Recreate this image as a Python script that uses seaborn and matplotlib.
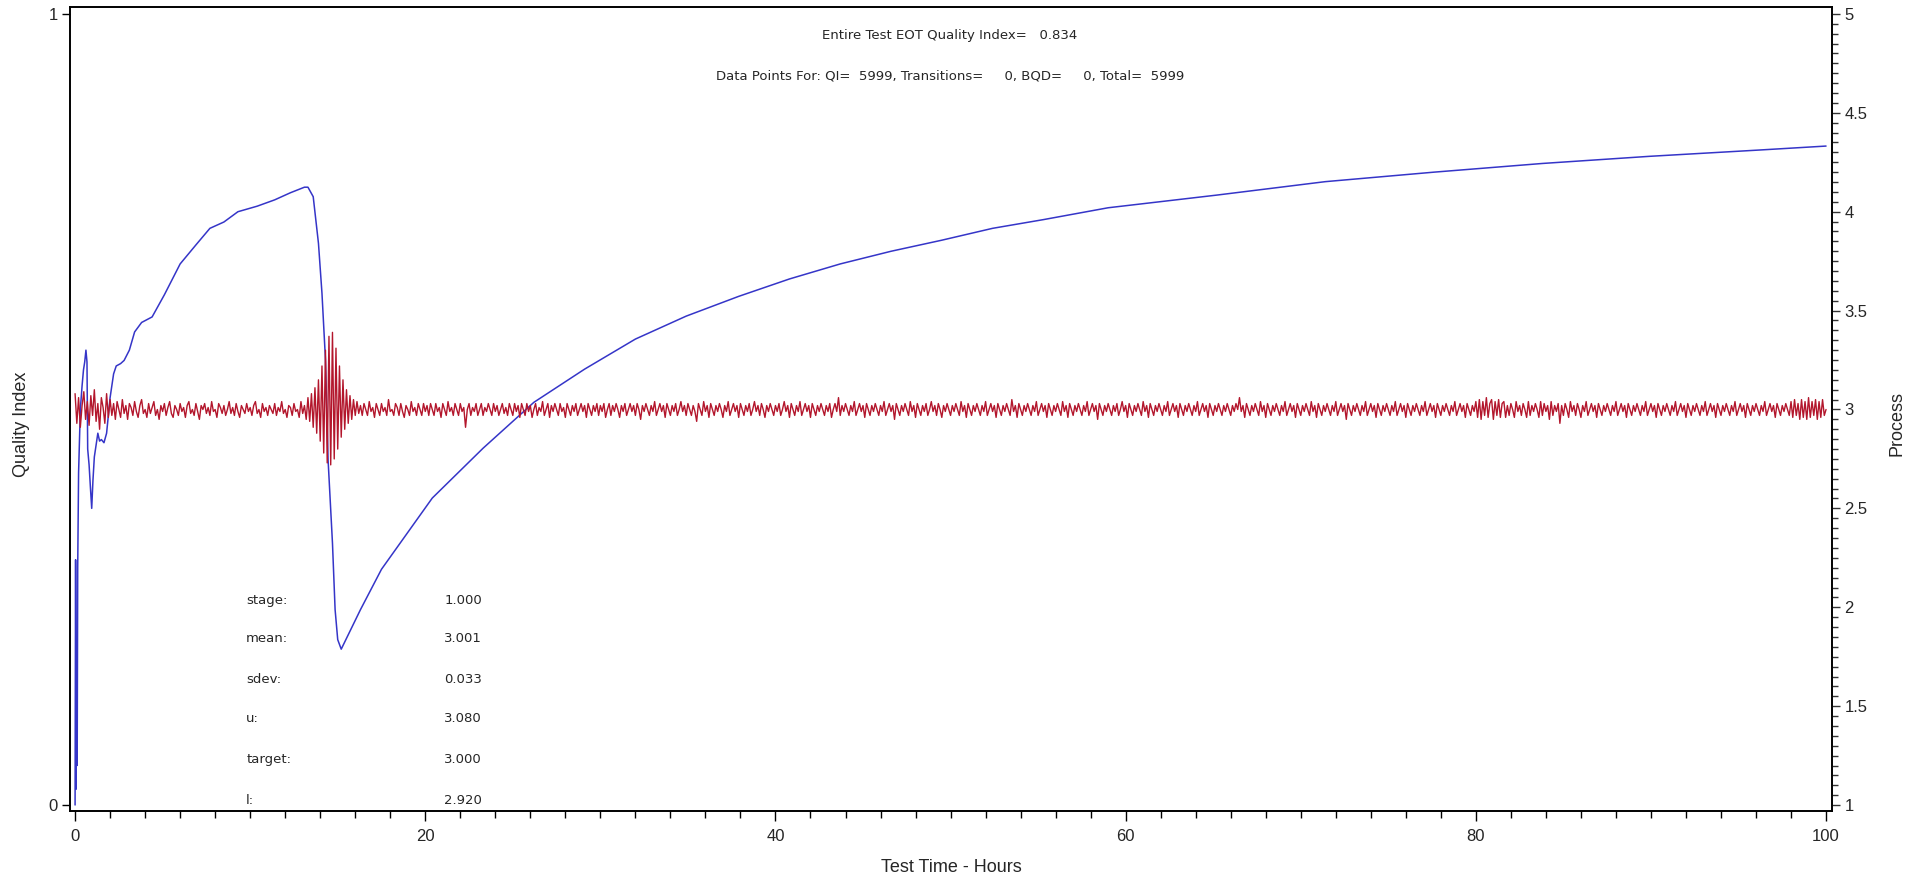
import numpy as np
import pandas as pd
import seaborn as sns
import matplotlib.pyplot as plt
from matplotlib.ticker import MultipleLocator

# quality index (left axis)
qi_hours = [0.0, 0.03, 0.06, 0.09, 0.12, 0.15, 0.2, 0.3, 0.4, 0.48, 0.55, 0.62, 0.68,
            0.72, 0.8, 0.88, 0.95, 1.02, 1.1, 1.2, 1.3, 1.4, 1.5, 1.65, 1.8, 2.0, 2.2,
            2.35, 2.6, 2.8, 3.1, 3.4, 3.8, 4.4, 5.1, 6.0, 6.9, 7.7, 8.5, 9.3, 10.4,
            11.4, 12.3, 13.1, 13.3, 13.6, 13.9, 14.1, 14.3, 14.45, 14.7, 14.85, 15.0,
            15.2, 16.3, 17.5, 20.4, 23.3, 26.2, 29.1, 32.0, 34.9, 37.9, 40.8, 43.7,
            46.6, 49.5, 52.4, 55.3, 59.0, 65.2, 71.4, 77.6, 83.8, 89.9, 96.2, 100.0]
qi_values = [0.0, 0.31, 0.02, 0.19, 0.05, 0.30, 0.42, 0.50, 0.53, 0.55, 0.56, 0.575, 0.56,
             0.45, 0.43, 0.40, 0.375, 0.41, 0.44, 0.455, 0.47, 0.46, 0.462, 0.458, 0.47,
             0.515, 0.545, 0.555, 0.558, 0.562, 0.575, 0.598, 0.61, 0.617, 0.645, 0.684,
             0.708, 0.729, 0.737, 0.750, 0.757, 0.765, 0.774, 0.781, 0.781, 0.769, 0.71,
             0.647, 0.563, 0.436, 0.331, 0.247, 0.209, 0.197, 0.247, 0.298, 0.388, 0.451,
             0.509, 0.551, 0.589, 0.618, 0.643, 0.665, 0.684, 0.700, 0.714, 0.729, 0.740,
             0.755, 0.771, 0.788, 0.800, 0.811, 0.820, 0.828, 0.833]

# process (right axis), one reading every 0.1 h
process_values = [
    # 0 - 4.9 h
    3.08, 2.93, 3.06, 2.91, 3.02, 3.09, 2.95, 3.04, 2.92, 3.07, 2.97, 3.10, 2.94, 3.03, 2.90, 3.06, 3.01, 2.93, 3.08, 2.96,
    3.05, 2.97, 3.03, 2.95, 3.04, 3.00, 2.96, 3.05, 2.98, 3.02, 2.95, 3.03, 3.01, 2.97, 3.04, 2.99, 2.96, 3.02, 3.05, 2.98,
    3.00, 2.96, 3.03, 2.98, 3.01, 3.04, 2.97, 3.00, 2.95, 3.02,
    # 5 - 9.9 h
    2.99, 3.03, 2.97, 3.01, 3.04, 2.98, 2.96, 3.02, 3.00, 2.97, 3.03, 2.99, 3.01, 2.96, 3.02, 3.04, 2.98, 3.00, 2.97, 3.03,
    2.99, 2.95, 3.02, 3.00, 3.03, 2.98, 3.01, 2.97, 3.04, 2.99, 3.00, 2.96, 3.03, 3.01, 2.98, 3.02, 2.97, 3.00, 3.04, 2.98,
    3.01, 2.97, 3.03, 2.99, 2.96, 3.02, 3.00, 2.98, 3.03, 2.99,
    # 10 - 14.9 h
    3.01, 2.97, 3.02, 3.04, 2.98, 3.00, 2.96, 3.03, 2.99, 3.01, 2.97, 3.02, 3.00, 2.98, 3.03, 2.97, 3.01, 2.99, 3.04, 2.98,
    3.00, 2.96, 3.02, 3.01, 2.97, 3.03, 2.99, 3.00, 2.96, 3.04, 2.98, 3.02, 2.95, 3.06, 2.94, 3.08, 2.91, 3.11, 2.88, 3.15,
    2.84, 3.22, 2.78, 3.30, 2.73, 3.37, 2.72, 3.39, 2.75, 3.31,
    # 15 - 19.9 h
    2.80, 3.22, 2.86, 3.15, 2.90, 3.10, 2.93, 3.07, 2.95, 3.05, 2.97, 3.04, 2.98, 3.02, 2.97, 3.03, 3.00, 2.97, 3.04, 2.99,
    3.01, 2.96, 3.03, 3.00, 2.97, 3.03, 2.99, 3.01, 2.97, 3.05, 2.99, 3.00, 2.97, 3.03, 3.01, 2.97, 3.03, 2.99, 2.96, 3.02,
    3.00, 2.97, 3.04, 2.99, 3.01, 2.97, 3.03, 3.00, 2.97, 3.03,
    # 20 - 24.9 h
    2.99, 3.02, 2.97, 3.03, 3.00, 2.97, 3.03, 2.99, 3.01, 2.96, 3.03, 3.00, 2.97, 3.04, 2.99, 3.01, 2.97, 3.03, 3.00, 2.97,
    3.03, 2.99, 3.01, 2.91, 3.00, 3.03, 2.97, 3.01, 2.99, 3.03, 2.97, 3.00, 3.03, 2.97, 3.01, 2.99, 3.03, 3.00, 2.97, 3.03,
    2.99, 3.02, 2.97, 3.00, 3.03, 2.98, 3.01, 2.97, 3.03, 3.00,
    # 25 - 29.9 h
    2.97, 3.03, 2.99, 3.02, 2.96, 3.03, 3.00, 2.97, 3.03, 2.99, 3.02, 2.96, 3.00, 3.03, 2.97, 3.01, 2.99, 3.04, 2.97, 3.00,
    3.03, 2.96, 3.02, 2.99, 3.03, 3.00, 2.97, 3.03, 2.99, 3.01, 2.96, 3.03, 3.00, 2.97, 3.02, 2.99, 3.03, 2.97, 3.00, 3.03,
    2.99, 3.02, 2.96, 3.03, 3.00, 2.97, 3.02, 2.99, 3.03, 2.97,
    # 30 - 34.9 h
    3.02, 2.99, 3.03, 2.96, 3.00, 3.03, 2.97, 3.02, 2.99, 3.03, 3.00, 2.96, 3.02, 2.99, 3.03, 2.97, 3.00, 3.03, 2.99, 3.02,
    2.97, 3.03, 3.00, 2.95, 3.02, 2.99, 3.03, 3.00, 2.97, 3.02, 2.99, 3.04, 2.97, 3.00, 3.03, 2.99, 3.02, 2.96, 3.03, 3.00,
    2.97, 3.02, 2.99, 3.03, 2.97, 3.00, 3.04, 2.99, 3.02, 2.97,
    # 35 - 39.9 h
    3.03, 3.00, 2.97, 3.02, 2.99, 2.94, 3.03, 3.00, 2.97, 3.04, 2.99, 3.02, 2.96, 3.03, 3.00, 2.97, 3.02, 2.99, 3.03, 3.00,
    2.96, 3.02, 2.99, 3.04, 2.97, 3.00, 3.03, 2.99, 3.02, 2.96, 3.03, 3.00, 2.97, 3.02, 2.99, 3.03, 2.97, 3.00, 3.04, 2.99,
    3.02, 2.97, 3.03, 3.00, 2.96, 3.02, 2.99, 3.03, 3.00, 2.97,
    # 40 - 44.9 h
    3.02, 2.99, 3.03, 2.97, 3.00, 3.04, 2.99, 3.02, 2.96, 3.03, 3.00, 2.97, 3.02, 2.99, 3.04, 2.97, 3.00, 3.03, 2.99, 3.02,
    2.96, 3.03, 3.00, 2.97, 3.02, 2.99, 3.03, 3.00, 2.97, 3.02, 2.99, 3.03, 2.96, 3.00, 3.03, 2.99, 3.06, 2.97, 3.02, 2.99,
    3.03, 3.00, 2.97, 3.02, 2.99, 3.04, 2.97, 3.00, 3.03, 2.99,
    # 45 - 49.9 h
    3.02, 2.96, 3.03, 3.00, 2.97, 3.02, 2.99, 3.03, 3.00, 2.97, 3.02, 2.99, 3.04, 2.97, 3.00, 3.03, 2.99, 3.02, 2.95, 3.03,
    3.00, 2.97, 3.02, 2.99, 3.03, 3.00, 2.97, 3.04, 2.99, 3.02, 2.96, 3.03, 3.00, 2.97, 3.02, 2.99, 3.03, 2.97, 3.00, 3.04,
    2.99, 3.02, 2.97, 3.03, 3.00, 2.96, 3.02, 2.99, 3.03, 3.00,
    # 50 - 54.9 h
    2.97, 3.02, 2.99, 3.03, 3.00, 2.97, 3.04, 2.99, 3.02, 2.96, 3.03, 3.00, 2.97, 3.02, 2.99, 3.03, 3.00, 2.97, 3.02, 2.99,
    3.04, 2.97, 3.00, 3.03, 2.99, 3.02, 2.96, 3.03, 3.00, 2.97, 3.02, 2.99, 3.03, 3.00, 2.97, 3.05, 2.99, 3.02, 2.96, 3.03,
    3.00, 2.97, 3.02, 2.99, 3.03, 3.00, 2.97, 3.02, 2.99, 3.04,
    # 55 - 59.9 h
    2.97, 3.00, 3.03, 2.99, 3.02, 2.96, 3.03, 3.00, 2.97, 3.02, 2.99, 3.03, 3.00, 2.97, 3.04, 2.99, 3.02, 2.96, 3.03, 3.00,
    2.97, 3.02, 2.99, 3.03, 3.00, 2.97, 3.02, 2.99, 3.04, 2.97, 3.00, 3.03, 2.99, 3.02, 2.95, 3.03, 3.00, 2.97, 3.02, 2.99,
    3.03, 3.00, 2.97, 3.02, 2.99, 3.03, 2.97, 3.00, 3.04, 2.99,
    # 60 - 64.9 h
    3.02, 2.96, 3.03, 3.00, 2.97, 3.02, 2.99, 3.03, 3.00, 2.97, 3.04, 2.99, 3.02, 2.96, 3.03, 3.00, 2.97, 3.02, 2.99, 3.03,
    3.00, 2.97, 3.02, 2.99, 3.04, 2.97, 3.00, 3.03, 2.99, 3.02, 2.96, 3.03, 3.00, 2.97, 3.02, 2.99, 3.03, 3.00, 2.97, 3.02,
    2.99, 3.04, 2.97, 3.00, 3.03, 2.99, 3.02, 2.96, 3.03, 3.00,
    # 65 - 69.9 h
    2.97, 3.02, 2.99, 3.03, 3.00, 2.97, 3.02, 2.99, 3.03, 3.00, 2.97, 3.02, 2.99, 3.03, 3.00, 3.06, 2.99, 3.02, 2.96, 3.03,
    3.00, 2.97, 3.02, 2.99, 3.03, 3.00, 2.97, 3.04, 2.99, 3.02, 2.96, 3.03, 3.00, 2.97, 3.02, 2.99, 3.03, 3.00, 2.97, 3.02,
    2.99, 3.04, 2.97, 3.00, 3.03, 2.99, 3.02, 2.96, 3.03, 3.00,
    # 70 - 74.9 h
    2.97, 3.02, 2.99, 3.03, 3.00, 2.97, 3.04, 2.99, 3.02, 2.96, 3.03, 3.00, 2.97, 3.02, 2.99, 3.03, 3.00, 2.97, 3.02, 2.99,
    3.04, 2.97, 3.00, 3.03, 2.99, 3.02, 2.95, 3.03, 3.00, 2.97, 3.02, 2.99, 3.03, 3.00, 2.97, 3.02, 2.99, 3.04, 2.97, 3.00,
    3.03, 2.99, 3.02, 2.96, 3.03, 3.00, 2.97, 3.02, 2.99, 3.03,
    # 75 - 79.9 h
    3.00, 2.97, 3.02, 2.99, 3.04, 2.97, 3.00, 3.03, 2.99, 3.02, 2.96, 3.03, 3.00, 2.97, 3.02, 2.99, 3.03, 3.00, 2.97, 3.02,
    2.99, 3.04, 2.97, 3.00, 3.03, 2.99, 3.02, 2.96, 3.03, 3.00, 2.97, 3.02, 2.99, 3.03, 3.00, 2.97, 3.02, 2.99, 3.04, 2.97,
    3.00, 3.03, 2.99, 3.02, 2.96, 3.03, 3.00, 2.97, 3.02, 2.99,
    # 80 - 84.9 h
    3.04, 2.96, 3.05, 2.95, 3.04, 2.97, 3.06, 2.96, 3.03, 3.05, 2.95, 3.04, 2.97, 3.05, 2.96, 3.03, 3.04, 2.96, 3.02, 2.97,
    3.03, 3.00, 2.96, 3.04, 2.99, 3.02, 2.97, 3.03, 3.00, 2.96, 3.04, 2.97, 3.02, 2.99, 3.03, 3.00, 2.96, 3.04, 2.97, 3.03,
    2.99, 3.02, 2.95, 3.04, 2.97, 3.02, 2.99, 3.03, 2.93, 3.02,
    # 85 - 89.9 h
    2.97, 3.03, 3.00, 2.96, 3.04, 2.99, 3.02, 2.97, 3.03, 3.00, 2.96, 3.02, 2.99, 3.04, 2.97, 3.00, 3.03, 2.99, 3.02, 2.96,
    3.03, 3.00, 2.97, 3.02, 2.99, 3.03, 3.00, 2.97, 3.02, 2.99, 3.04, 2.97, 3.00, 3.03, 2.99, 3.02, 2.96, 3.03, 3.00, 2.97,
    3.02, 2.99, 3.03, 3.00, 2.97, 3.02, 2.99, 3.04, 2.97, 3.00,
    # 90 - 94.9 h
    3.03, 2.99, 3.02, 2.96, 3.03, 3.00, 2.97, 3.02, 2.99, 3.03, 3.00, 2.97, 3.02, 2.99, 3.04, 2.97, 3.00, 3.03, 2.99, 3.02,
    2.96, 3.03, 3.00, 2.97, 3.02, 2.99, 3.03, 3.00, 2.97, 3.02, 2.99, 3.04, 2.97, 3.00, 3.03, 2.99, 3.02, 2.96, 3.03, 3.00,
    2.97, 3.02, 2.99, 3.03, 3.00, 2.97, 3.02, 2.99, 3.04, 2.97,
    # 95 - 100 h
    3.00, 3.03, 2.99, 3.02, 2.96, 3.03, 3.00, 2.97, 3.02, 2.99, 3.03, 3.00, 2.97, 3.02, 2.99, 3.04, 2.97, 3.00, 3.03, 2.99,
    3.02, 2.96, 3.03, 3.00, 2.97, 3.02, 2.99, 3.03, 3.00, 2.97, 3.04, 2.96, 3.05, 2.97, 3.03, 2.95, 3.05, 2.96, 3.04, 2.95,
    3.06, 2.96, 3.04, 2.97, 3.05, 2.95, 3.04, 2.96, 3.05, 2.97,
    3.00]
process_hours = np.linspace(0, 100, len(process_values))

stat_names = ["stage:", "mean:", "sdev:", "u:", "target:", "l:"]
stat_values = ["1.000", "3.001", "0.033", "3.080", "3.000", "2.920"]
stat_rows = [0.259, 0.210, 0.159, 0.109, 0.058, 0.006]

right_ticks = [1, 1.5, 2, 2.5, 3, 3.5, 4, 4.5, 5]
right_labels = ["1", "1.5", "2", "2.5", "3", "3.5", "4", "4.5", "5"]

sns.set_theme(style="white")
plt.rcParams["font.family"] = ["Liberation Sans", "DejaVu Sans"]

W, H = 1925, 883
fig = plt.figure(figsize=(W / 100, H / 100), dpi=100)
ax = fig.add_axes([70 / W, (H - 811) / H, (1832 - 70) / W, (811 - 7) / H])
ax2 = ax.twinx()

qi = pd.DataFrame({"hours": qi_hours, "qi": qi_values})
proc = pd.DataFrame({"hours": process_hours, "process": process_values})
sns.lineplot(data=qi, x="hours", y="qi", ax=ax, color="#3535c8", lw=1.1,
             estimator=None, sort=False)
sns.lineplot(data=proc, x="hours", y="process", ax=ax2, color="#b3162c", lw=1.0,
             estimator=None, sort=False)

ax.set_xlim(-0.29, 100.34)
ax.set_ylim(-0.0076, 1.0088)
ax2.set_ylim(0.970, 5.035)
ax.set_xlabel("")
ax.set_ylabel("")
ax2.set_ylabel("")

ax.set_xticks([0, 20, 40, 60, 80, 100])
ax.xaxis.set_minor_locator(MultipleLocator(2))
ax.set_yticks([0, 1])
ax.set_yticklabels(["0", "1"])
ax2.set_yticks(right_ticks)
ax2.set_yticklabels(right_labels)
ax2.yaxis.set_minor_locator(MultipleLocator(0.05))

for a in (ax, ax2):
    a.grid(False)
    for s in a.spines.values():
        s.set_color("black")
        s.set_linewidth(1.2)
ax.tick_params(axis="x", which="major", bottom=True, direction="out", length=7, width=1,
               color="black", labelsize=12, pad=6)
ax.tick_params(axis="x", which="minor", bottom=True, direction="out", length=5, width=1,
               color="black")
ax.tick_params(axis="y", which="major", left=True, direction="out", length=6, width=1,
               color="black", labelsize=12, pad=3)
ax2.tick_params(axis="y", which="major", right=True, direction="out", length=6, width=1,
                color="#333333", labelsize=12, pad=3)
ax2.tick_params(axis="y", which="minor", right=True, direction="out", length=4, width=1,
                color="#333333")

fig.text(22 / W, 1 - 424 / H, "Quality Index", rotation=90, ha="center", va="center",
         fontsize=13)
fig.text(1897 / W, 1 - 424 / H, "Process", rotation=90, ha="center", va="center",
         fontsize=13)
fig.text(951 / W, 1 - 868 / H, "Test Time - Hours", ha="center", va="center", fontsize=13)

fig.text(950 / W, 1 - 35 / H, "Entire Test EOT Quality Index=   0.834",
         ha="center", va="center", fontsize=9.5, family="DejaVu Sans")
fig.text(950 / W, 1 - 76 / H,
         "Data Points For: QI=  5999, Transitions=     0, BQD=     0, Total=  5999",
         ha="center", va="center", fontsize=9.5, family="DejaVu Sans")

for name, val, yv in zip(stat_names, stat_values, stat_rows):
    ax.text(9.77, yv, name, ha="left", va="center", fontsize=9.5, family="DejaVu Sans")
    ax.text(23.24, yv, val, ha="right", va="center", fontsize=9.5, family="DejaVu Sans")

fig.savefig("out.png", dpi=100)
